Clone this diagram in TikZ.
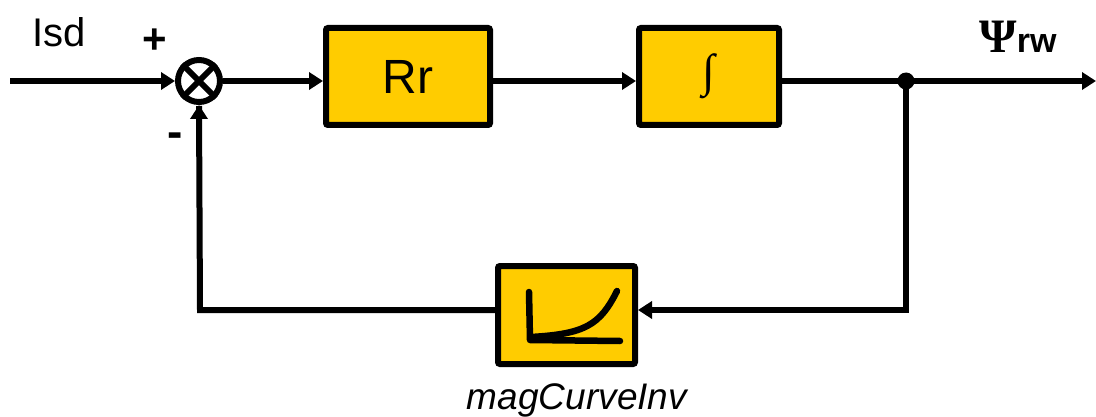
\documentclass[tikz,border=0pt]{standalone}
\usepackage{fontspec}
\setmainfont{Liberation Sans}
\newfontfamily\serifpsi{Liberation Serif}
\usetikzlibrary{arrows.meta,calc}
\definecolor{blockyellow}{HTML}{FFCC00}
\tikzset{
  wire/.style={line width=6pt},
  arr/.style={wire,-{Triangle[length=14pt,width=17pt]}},
  blockbox/.style={draw,line width=6pt,fill=blockyellow,rounded corners=2pt,inner sep=0pt},
  sumnode/.style={draw,circle,line width=6pt,minimum size=42pt,inner sep=0pt},
  lbl/.style={inner sep=0pt}
}
\begin{document}
\begin{tikzpicture}[x=1pt,y=-1pt]
\useasboundingbox (0,0) rectangle (1096,417);
% nodes
\node[sumnode] (sum) at (199,81) {};
\node[blockbox,minimum width=164pt,minimum height=97pt] (rr) at (408,76.5) {\fontsize{48}{50}\selectfont Rr};
\node[blockbox,minimum width=140pt,minimum height=97pt] (int) at (709,76.5) {\serifpsi\fontsize{46}{48}\selectfont ∫};
\node[blockbox,minimum width=137pt,minimum height=98pt] (mag) at (566.5,315) {};
\coordinate (in) at (10,81);
\coordinate (jn) at (906,81);
\coordinate (out) at (1096,81);
\coordinate (fbr) at (906,310);
\coordinate (fbl) at (200,310);
% cross in summing junction
\draw[wire] (sum.north west) -- (sum.south east);
\draw[wire] (sum.north east) -- (sum.south west);
% connectors
\draw[arr] (in) -- (sum.west);
\draw[arr] (sum.east) -- (sum.east -| rr.west);
\draw[arr] (rr.east |- sum.east) -- (sum.east -| int.west);
\draw[wire] (int.east |- jn) -- (jn);
\draw[arr] (jn) -- (out);
\draw[arr,line join=miter] (jn) -- (fbr) -- (fbr -| mag.east);
\draw[wire,line join=miter] (fbr -| mag.west) -- (fbl) -- ([yshift=-1pt]sum.south);
\draw[arr] ([yshift=-10pt]sum.south) -- (sum.south);
\fill (jn) circle (8.5pt);
% curve icon
\draw[line width=6.5pt,line cap=round,line join=round] (529,292) -- (530,340) -- (620,341);
\draw[line width=6.5pt,line cap=round] (531,337) .. controls (585,334) and (600,325) .. (617,291);
% labels
\node[lbl,anchor=base] (isd) at (59,47) {\fontsize{40}{42}\selectfont Isd};
\node[lbl] (plus) at (155,41) {\fontsize{42}{44}\selectfont\bfseries +};
\node[lbl] (minus) at (175,140) {\fontsize{46}{48}\selectfont\bfseries -};
\node[lbl,anchor=base] (psi) at (1018,53) {{\serifpsi\fontsize{48}{50}\selectfont\bfseries Ψ}{\fontsize{34}{38}\selectfont\bfseries rw}};
\node[lbl,anchor=base] (magl) at (577,409) {\fontsize{37}{40}\selectfont\itshape magCurveInv};
\end{tikzpicture}
\end{document}
